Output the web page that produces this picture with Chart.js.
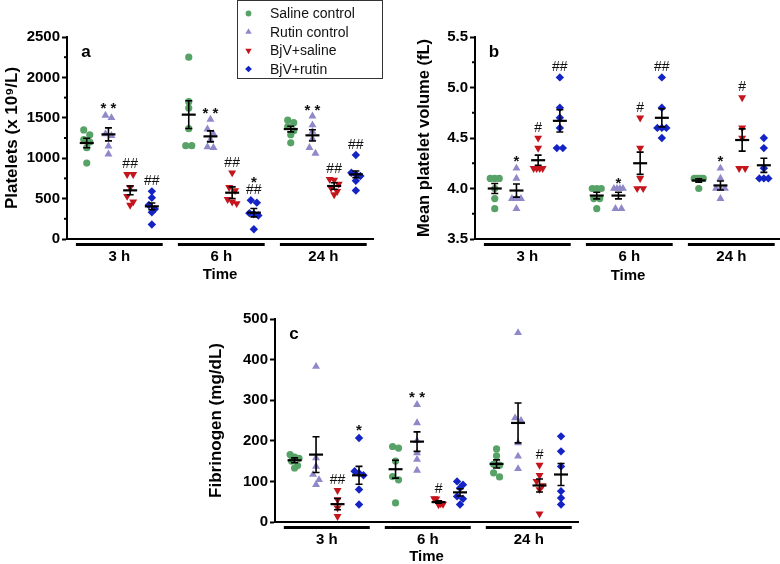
<!DOCTYPE html>
<html><head><meta charset="utf-8">
<script src="https://cdn.jsdelivr.net/npm/chart.js@4.4.1/dist/chart.umd.min.js"></script>
<style>
html,body{margin:0;padding:0;width:780px;height:564px;overflow:hidden;background:#fff;}
.p{position:absolute;}
</style></head><body>
<div class="p" style="left:0px;top:0px;width:390px;height:290px"><canvas id="ca"></canvas></div>
<div class="p" style="left:408px;top:0px;width:390px;height:290px"><canvas id="cb"></canvas></div>
<div class="p" style="left:204px;top:280px;width:394px;height:290px"><canvas id="cc"></canvas></div>
<script>
// ---------- categories & series ----------
const timeLabels = ['3 h', '6 h', '24 h'];
const seriesNames = ['Saline control', 'Rutin control', 'BjV+saline', 'BjV+rutin'];

// ---------- panel a: platelets (x10^9/L), per time [3h, 6h, 24h] ----------
const pltSaline = [[1350,1290,1230,1200,1130,940],[2250,1700,1620,1365,1155,1155],[1470,1440,1390,1340,1290,1190]];
const pltRutin  = [[1530,1500,1300,1280,1150,1050],[1480,1360,1300,1230,1140,1130],[1520,1410,1330,1240,1130,1060]];
const pltBjvSal = [[800,800,640,530,460,420],[820,640,600,490,460,440],[740,730,680,630,590,550]];
const pltBjvRut = [[590,510,420,370,330,180],[480,450,320,310,290,120],[1040,820,800,780,720,600]];
const pltMean = [[1188,1295,602,404],[1539,1270,573,326],[1361,1283,656,800]];
const pltSem  = [[58,80,54,41],[172,68,72,52],[35,70,41,41]];
const pltNotes = [[0,1,'* *',1642],[0,2,'##',924],[0,3,'##',714],[1,1,'* *',1592],[1,2,'##',940],[1,3,'*',734],[1,3,'##',602],[2,1,'* *',1621],[2,2,'##',862],[2,3,'##',1167]];
const pltTicks = [0,500,1000,1500,2000,2500];

// ---------- panel b: mean platelet volume (fL) ----------
const mpvSaline = [[4.1,4.1,4.1,4.0,3.9,3.8],[4.0,4.0,4.0,3.9,3.9,3.8],[4.1,4.1,4.1,4.1,4.1,4.0]];
const mpvRutin  = [[4.2,4.1,3.9,3.9,3.9,3.8],[4.0,4.0,4.0,4.0,3.8,3.8],[4.2,4.1,4.0,4.0,4.0,3.9]];
const mpvBjvSal = [[4.5,4.4,4.2,4.2,4.2,4.2],[4.7,4.4,4.1,4.0,4.0],[4.9,4.6,4.5,4.2,4.2]];
const mpvBjvRut = [[5.1,4.8,4.7,4.6,4.4,4.4],[5.1,4.8,4.6,4.6,4.6,4.5],[4.5,4.4,4.2,4.1,4.1,4.1]];
const mpvMean = [[4.00,3.98,4.28,4.67],[3.93,3.93,4.25,4.70],[4.08,4.03,4.48,4.23]];
const mpvSem  = [[0.05,0.065,0.05,0.11],[0.033,0.033,0.11,0.09],[0.017,0.045,0.11,0.07]];
const mpvNotes = [[0,1,'*',4.295],[0,2,'#',4.60],[0,3,'##',5.20],[1,1,'*',4.08],[1,2,'#',4.80],[1,3,'##',5.20],[2,1,'*',4.295],[2,2,'#',5.005]];
const mpvTicks = [3.5,4.0,4.5,5.0,5.5];

// ---------- panel c: fibrinogen (mg/dL) ----------
const fibSaline = [[166,160,157,150,139,133],[186,182,150,112,104,47],[180,163,142,140,121,111]];
const fibRutin  = [[383,158,137,117,104,92],[289,244,200,170,154,127],[466,256,250,195,162,131]];
const fibBjvSal = [[78,55,35,14],[58,57,48,45,44,43],[140,115,100,90,80,20]];
const fibBjvRut = [[207,125,120,115,80,43],[100,92,84,63,57,43],[211,174,137,76,59,43]];
const fibMean = [[152,166,44,115],[130,198,49,73],[143,244,90,117]];
const fibSem  = [[6,44,14,22],[22,24,3,9],[10,49,16,27]];
const fibNotes = [[0,2,'##',102],[0,3,'*',231],[1,1,'* *',314],[1,2,'#',82],[2,2,'#',164]];
const fibTicks = [0,100,200,300,400,500];

// ---------- styling ----------
const FONT = "'Liberation Sans', Arial, Helvetica, sans-serif";
const colors = ['#57a266', '#8f88c9', '#c4141c', '#1424c4'];
const pStyles = ['circle', 'triangle', 'triangle', 'rectRot'];
const pRot = [0, 0, 180, 0];
const pRad = [3.6, 4.6, 4.6, 4.2];
const GAP = 4.7;
const X_MIN = -2.41, X_MAX = 11.69;
function xOf(g, s) { return g * GAP + s - 1.5; }

function swarm(groups, s, pxPerVal) {
  const pxPerX = 21.7;
  const pts = [];
  groups.forEach((vals, g) => {
    const sorted = vals.slice().sort((a, b) => b - a);
    const rows = [];
    sorted.forEach(v => {
      const r = rows[rows.length - 1];
      if (r && (r[0] - v) * pxPerVal < 6) r.push(v); else rows.push([v]);
    });
    rows.forEach(r => {
      const step = r.length > 1 ? Math.min(6, 9 / (r.length - 1)) : 0;
      r.forEach((v, i) => pts.push({ x: xOf(g, s) + (i - (r.length - 1) / 2) * step / pxPerX, y: v }));
    });
  });
  return pts;
}

const panelPlugin = {
  id: 'panelDecor',
  afterDatasetsDraw(chart) {
    const o = chart.options.plugins.panelDecor;
    const ctx = chart.ctx, xs = chart.scales.x, ys = chart.scales.y;
    ctx.save();
    ctx.strokeStyle = '#000';
    o.mean.forEach((row, g) => row.forEach((m, s) => {
      const x = xs.getPixelForValue(xOf(g, s));
      const y = ys.getPixelForValue(m);
      const yt = ys.getPixelForValue(m + o.sem[g][s]);
      const yb = ys.getPixelForValue(m - o.sem[g][s]);
      ctx.lineWidth = 1.6;
      ctx.beginPath();
      ctx.moveTo(x, yt); ctx.lineTo(x, yb);
      ctx.moveTo(x - 3.5, yt); ctx.lineTo(x + 3.5, yt);
      ctx.moveTo(x - 3.5, yb); ctx.lineTo(x + 3.5, yb);
      ctx.stroke();
      ctx.lineWidth = 2.2;
      ctx.beginPath();
      ctx.moveTo(x - 7, y); ctx.lineTo(x + 7, y);
      ctx.stroke();
    }));
    ctx.fillStyle = '#111';
    ctx.textAlign = 'center';
    ctx.textBaseline = 'middle';
    o.notes.forEach(n => {
      const x = xs.getPixelForValue(xOf(n[0], n[1]));
      let y = ys.getPixelForValue(n[3]);
      if (n[2].indexOf('*') >= 0) { ctx.font = 'bold 15px ' + FONT; y += 3; }
      else { ctx.font = '14px ' + FONT; }
      ctx.fillText(n[2], x, y);
    });
    ctx.restore();
  },
  afterDraw(chart) {
    const o = chart.options.plugins.panelDecor;
    const ctx = chart.ctx, xs = chart.scales.x, ys = chart.scales.y, ca = chart.chartArea;
    ctx.save();
    ctx.strokeStyle = '#000';
    ctx.lineWidth = 3;
    timeLabels.forEach((t, g) => {
      ctx.beginPath();
      ctx.moveTo(xs.getPixelForValue(g * GAP - 2), ca.bottom + 5.5);
      ctx.lineTo(xs.getPixelForValue(g * GAP + 2), ca.bottom + 5.5);
      ctx.stroke();
    });
    ctx.lineWidth = 2;
    o.minor.forEach(v => {
      const y = ys.getPixelForValue(v);
      ctx.beginPath(); ctx.moveTo(ca.left - 3, y); ctx.lineTo(ca.left, y); ctx.stroke();
    });
    ctx.fillStyle = '#000';
    ctx.font = 'bold 17px ' + FONT;
    ctx.textAlign = 'center'; ctx.textBaseline = 'middle';
    ctx.fillText(o.letter, ca.left + 19, ca.top + 15);
    if (o.legend) {
      ctx.lineWidth = 1; ctx.strokeStyle = '#333';
      ctx.strokeRect(237.5, 0.5, 145, 78);
      const rowsY = [13.5, 32, 50.5, 69];
      seriesNames.forEach((nm, i) => {
        ctx.fillStyle = colors[i]; ctx.strokeStyle = colors[i];
        Chart.helpers.drawPoint(ctx, { pointStyle: pStyles[i], rotation: pRot[i], radius: pRad[i] * 0.8, borderWidth: 0 }, 248.5, rowsY[i]);
        ctx.fillStyle = '#111';
        ctx.font = '14px ' + FONT;
        ctx.textAlign = 'left'; ctx.textBaseline = 'middle';
        ctx.fillText(nm, 270, rowsY[i] + 1);
      });
    }
    ctx.restore();
  }
};

function makePanel(id, p) {
  const datasets = p.series.map((groups, s) => ({
    label: seriesNames[s],
    data: swarm(groups, s, 202 / (p.max - p.min)),
    pointStyle: pStyles[s],
    rotation: pRot[s],
    radius: pRad[s],
    backgroundColor: colors[s],
    borderColor: colors[s],
    borderWidth: 0,
    showLine: false
  }));
  new Chart(document.getElementById(id), {
    type: 'scatter',
    data: { datasets },
    options: {
      responsive: true, maintainAspectRatio: false, animation: false,
      events: [],
      layout: { padding: { top: p.padTop, right: p.padRight, left: 0, bottom: 0 } },
      plugins: {
        legend: { display: false }, tooltip: { enabled: false },
        panelDecor: { mean: p.mean, sem: p.sem, notes: p.notes, minor: p.minor, letter: p.letter, legend: p.legend }
      },
      scales: {
        x: {
          type: 'linear', min: X_MIN, max: X_MAX,
          afterBuildTicks: sc => { sc.ticks = timeLabels.map((t, g) => ({ value: g * GAP })); },
          afterFit: sc => { sc.height = p.xHeight; },
          ticks: { callback: (v, i) => timeLabels[i], autoSkip: false, maxRotation: 0, color: '#000', font: { family: FONT, size: 15, weight: 'bold' }, padding: 9 },
          grid: { display: false, drawTicks: false },
          border: { color: '#000', width: 2 },
          title: { display: true, text: 'Time', color: '#000', font: { family: FONT, size: 15, weight: 'bold' }, padding: { top: 0, bottom: p.timePad } }
        },
        y: {
          type: 'linear', min: p.min, max: p.max,
          afterBuildTicks: sc => { sc.ticks = p.ticks.map(v => ({ value: v })); },
          afterFit: sc => { sc.width = p.yWidth; },
          ticks: { callback: v => p.fmt(v), color: '#000', font: { family: FONT, size: 15, weight: 'bold' }, padding: 2 },
          grid: { drawOnChartArea: false, drawTicks: true, tickLength: 5, tickColor: '#000', tickWidth: 2 },
          border: { color: '#000', width: 2 },
          title: { display: true, text: p.yTitle, color: '#000', font: { family: FONT, size: p.yTitleSize, weight: 'bold' }, padding: { top: p.yTitlePad, bottom: 0 } }
        }
      }
    },
    plugins: [panelPlugin]
  });
}

makePanel('ca', {
  series: [pltSaline, pltRutin, pltBjvSal, pltBjvRut], mean: pltMean, sem: pltSem, notes: pltNotes,
  min: 0, max: 2500, ticks: pltTicks, minor: [250, 750, 1250, 1750, 2250], fmt: v => String(v),
  yTitle: 'Platelets (x 10\u2079/L)', yTitleSize: 17, yTitlePad: 2, yWidth: 67,
  padTop: 37, padRight: 17, xHeight: 51, timePad: 6, letter: 'a', legend: true
});
makePanel('cb', {
  series: [mpvSaline, mpvRutin, mpvBjvSal, mpvBjvRut], mean: mpvMean, sem: mpvSem, notes: mpvNotes,
  min: 3.5, max: 5.5, ticks: mpvTicks, minor: [3.75, 4.25, 4.75, 5.25], fmt: v => v.toFixed(1),
  yTitle: 'Mean platelet volume (fL)', yTitleSize: 16.5, yTitlePad: 7, yWidth: 67,
  padTop: 37, padRight: 17, xHeight: 51, timePad: 5, letter: 'b', legend: false
});
makePanel('cc', {
  series: [fibSaline, fibRutin, fibBjvSal, fibBjvRut], mean: fibMean, sem: fibSem, notes: fibNotes,
  min: 0, max: 500, ticks: fibTicks, minor: [], fmt: v => String(v),
  yTitle: 'Fibrinogen (mg/dL)', yTitleSize: 17, yTitlePad: 2.5, yWidth: 71,
  padTop: 39, padRight: 20, xHeight: 48, timePad: 4, letter: 'c', legend: false
});
</script>
</body></html>
